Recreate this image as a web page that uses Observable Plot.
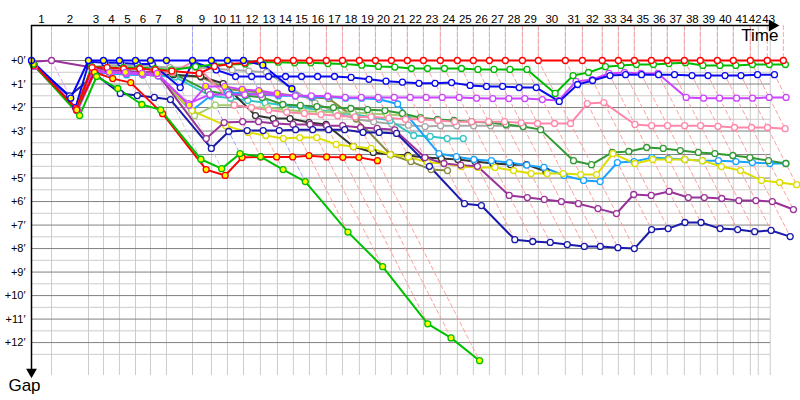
<!DOCTYPE html>
<html><head><meta charset="utf-8">
<script src="https://cdn.jsdelivr.net/npm/d3@7"></script>
<script src="https://cdn.jsdelivr.net/npm/@observablehq/plot@0.6"></script>
<style>body{margin:0;background:#fff;}#chart{width:800px;height:400px;}</style>
</head><body><div id="chart"></div>
<script>
// ---------- DATA ----------
// reference (leader) elapsed time in minutes at the end of each lap (index = lap 0..43)
const lapTime = [0, 1.67, 4.75, 6.0, 7.33, 8.67, 9.92, 11.25, 13.42, 15.0, 16.33, 17.67, 19.08, 20.5, 21.83, 23.17, 24.58, 25.92, 27.33, 28.67, 30.0, 31.33, 32.67, 34.08, 35.5, 36.83, 38.17, 39.5, 40.92, 42.25, 44.5, 45.92, 47.58, 48.92, 50.25, 51.67, 53.0, 54.42, 55.75, 57.17, 58.5, 59.92, 61.33, 62.67];
// time marks used for the lap grid and top labels
const lapMarkTime = [0, 1.67, 4.75, 6.0, 7.33, 8.67, 9.92, 11.25, 13.42, 15.0, 16.33, 17.67, 19.08, 20.5, 21.83, 23.17, 24.58, 25.92, 27.33, 28.67, 30.0, 31.33, 32.67, 34.08, 35.5, 36.83, 38.17, 39.5, 40.92, 42.25, 44.5, 45.92, 47.58, 48.92, 50.25, 51.67, 53.0, 54.42, 55.75, 57.17, 58.5, 59.92, 60.58, 61.58];
const lapLabels = ["1","2","3","4","5","6","7","8","9","10","11","12","13","14","15","16","17","18","19","20","21","22","23","24","25","26","27","28","29","30","31","32","33","34","35","36","37","38","39","40","41","42","43"];
const gapTicks = [0,1,2,3,4,5,6,7,8,9,10,11,12];

// gap to leader (minutes) per lap, index = lap
const gapRed = [0.1, 2.05, 0.3, 0.3, 0.35, 0.35, 0.4, 0.45, 0.55, 0.25, 0.15, 0.1, 0,0,0,0,0,0,0,0,0,0,0,0,0,0,0,0,0,0,0,0,0,0,0,0,0,0,0,0,0,0,0,0];
const gapRedY = [0.2, 2.1, 0.5, 0.77, 0.94, 2.26, 4.64, 4.89, 4.13, 4.1, 4.1, 4.1, 4.05, 4.1, 4.12, 4.12, 4.26];
const gapGreenY = [0.15, 2.34, 0.68, 1.19, 1.87, 2.1, 4.2, 4.6, 3.96, 4.09, 4.64, 5.15, 7.3, 8.77, 11.2, 11.8, 12.77];
const gapBlueY = [0, 1.6, 0, 0, 0, 0, 0, 0, 0, 0, 0, 0, 0.2, 1.2];
const gapBlue = [0.15, 2.0, 0.05, 0.1, 0.1, 0.15, 0.15, 1.15, 0.05, 0.4, 0.68, 0.68, 0.68, 0.68, 0.68, 0.68, 0.68, 0.72, 0.8, 0.88, 0.92, 0.97, 0.97, 0.94, 1.06, 1.1, 1.1, 1.15, 1.15, 1.74, 1.02, 0.85, 0.64, 0.6, 0.6, 0.6, 0.6, 0.64, 0.64, 0.64, 0.64, 0.6, 0.6];
const gapGreen = [0.2, 2.1, 0.25, 0.3, 0.3, 0.3, 0.35, 0.4, 0.26, 0.17, 0.17, 0.15, 0.07, 0.07, 0.1, 0.1, 0.13, 0.15, 0.2, 0.25, 0.28, 0.34, 0.34, 0.34, 0.34, 0.38, 0.38, 0.38, 0.38, 1.4, 0.64, 0.51, 0.26, 0.21, 0.17, 0.17, 0.13, 0.09, 0.21, 0.21, 0.21, 0.17, 0.17, 0.17];
const gapMagenta = [0.2, 2.1, 0.4, 0.5, 0.55, 0.6, 0.65, 1.83, 1.45, 1.45, 1.45, 1.45, 1.45, 1.5, 1.5, 1.52, 1.57, 1.57, 1.57, 1.57, 1.57, 1.57, 1.57, 1.57, 1.6, 1.62, 1.62, 1.62, 1.66, 1.7, 0.89, 0.81, 0.55, 0.51, 0.55, 0.55, 1.57, 1.6, 1.6, 1.6, 1.6, 1.57, 1.57];
const gapMagentaY = [0.25, 2.15, 0.5, 0.5, 0.5, 0.55, 0.55, 1.9, 1.1, 1.1, 1.23, 1.28, 1.4];
const gapPink = [0.1, 2.0, 0.3, 0.5, 0.55, 0.55, 0.6, 0.5, 0.05, 1.9, 2.0, 2.1, 2.2, 2.25, 2.3, 2.35, 2.4, 2.4, 2.45, 2.5, 2.5, 2.55, 2.6, 2.6, 2.6, 2.6, 2.65, 2.68, 2.68, 2.68, 1.83, 1.79, 2.72, 2.77, 2.77, 2.77, 2.77, 2.8, 2.85, 2.85, 2.85, 2.9];
const gapDarkGreen = [0.2, 2.1, 0.45, 0.45, 0.45, 0.5, 0.5, 0.55, 1.3, 1.45, 1.49, 1.57, 1.87, 1.91, 1.96, 2.0, 2.04, 2.09, 2.13, 2.25, 2.43, 2.51, 2.55, 2.6, 2.64, 2.72, 2.81, 2.94, 4.26, 4.43, 3.91, 3.87, 3.7, 3.74, 3.83, 3.91, 3.96, 4.04, 4.13, 4.26, 4.38];
const gapLightGreen = [0.2, 2.1, 0.5, 0.5, 0.55, 0.55, 0.6, 2.34, 1.9, 1.9, 2.0, 2.0, 2.09, 2.17, 2.17, 2.21, 2.21, 2.25, 2.3, 2.34, 2.47, 2.55];
const gapSky = [0.2, 2.1, 0.5, 0.55, 0.6, 0.6, 0.65, 2.13, 1.5, 1.35, 1.4, 1.45, 1.5, 1.5, 1.55, 1.55, 1.6, 1.6, 1.65, 1.85, 3.96, 4.09, 4.21, 4.26, 4.34, 4.45, 4.55, 4.89, 5.1, 5.15, 4.34, 4.3, 4.13, 4.17, 4.21, 4.26, 4.26, 4.3, 4.34, 4.38, 4.38];
const gapBlack = [0.2, 2.1, 0.5, 0.5, 0.5, 0.55, 0.55, 0.6, 0.68, 0.98, 2.34, 2.47, 2.47, 2.64, 2.72, 3.66, 3.91, 4.0, 4.04, 4.13, 4.17, 4.21, 4.3, 4.38, 4.43, 4.43, 4.72];
const gapYellow = [0.2, 2.1, 0.45, 0.5, 0.5, 0.55, 0.6, 2.13, 2.77, 3.06, 3.19, 3.32, 3.28, 3.28, 3.57, 3.66, 3.74, 4.0, 4.1, 4.34, 4.38, 4.51, 4.55, 4.55, 4.68, 4.81, 4.81, 4.81, 4.85, 4.85, 3.96, 4.38, 4.21, 4.21, 4.21, 4.26, 4.51, 4.68, 5.1, 5.19, 5.28];
const gapPurple = [0.05, 0, 0.3, 0.4, 0.45, 0.5, 0.5, 3.32, 2.64, 2.6, 2.6, 2.68, 2.72, 2.72, 2.77, 2.77, 2.85, 2.89, 2.95, 4.13, 4.38, 4.45, 4.5, 5.74, 5.83, 5.91, 6.0, 6.09, 6.3, 6.51, 5.7, 5.74, 5.57, 5.83, 5.83, 5.87, 5.96, 5.96, 6.0, 6.34];
const gapNavy = [0.15, 1.5, 0.6, 1.4, 1.49, 1.57, 1.66, 3.74, 3.02, 2.98, 2.98, 2.98, 2.94, 2.94, 2.94, 2.94, 3.06, 3.06, 3.1, 4.5, 6.09, 6.17, 7.62, 7.7, 7.74, 7.83, 7.91, 7.91, 7.96, 8.0, 7.19, 7.15, 6.89, 6.89, 7.15, 7.19, 7.28, 7.23, 7.49];
const gapOlive = [0.2, 2.1, 0.5, 0.5, 0.55, 0.6, 0.6, 0.65, 0.7, 1.2, 1.3, 1.35, 1.4, 1.5, 1.57, 1.62, 2.47, 4.0, 4.3, 4.64, 4.68];
const gapTeal = [0.2, 2.1, 0.5, 0.55, 0.6, 0.6, 0.65, 0.7, 1.5, 1.6, 1.7, 1.8, 1.9, 2.0, 2.1, 2.2, 2.3, 2.4, 2.55, 3.19, 3.23, 3.32, 3.32];
const gapGrey = [0.2, 2.1, 0.3, 0.2, 0.2, 0.2, 0.25, 0.3, 0.3, 0.35, 0.4, 0.45, 0.5, 1.2, 1.8, 2.2, 2.5, 2.6, 2.7, 2.75, 2.81, 2.77, 2.77, 2.77, 2.77, 2.77, 2.81];

// ---------- STYLE ----------
const series = [
  ["Grey", gapGrey, "#a8a8a8", false],
  ["Olive", gapOlive, "#8a8a44", false],
  ["Teal", gapTeal, "#33c4c4", false],
  ["LightGreen", gapLightGreen, "#a4cc70", false],
  ["Black", gapBlack, "#333333", false],
  ["Sky", gapSky, "#1aa3ff", false],
  ["DarkGreen", gapDarkGreen, "#339933", false],
  ["Pink", gapPink, "#ff88aa", false],
  ["Yellow", gapYellow, "#dddd00", false],
  ["Purple", gapPurple, "#993399", false],
  ["Navy", gapNavy, "#1a1aaa", false],
  ["MagentaY", gapMagentaY, "#cc44ff", true],
  ["Magenta", gapMagenta, "#cc44ff", false],
  ["RedY", gapRedY, "#ff0000", true],
  ["GreenY", gapGreenY, "#00c000", true],
  ["Blue", gapBlue, "#0a0aee", false],
  ["Green", gapGreen, "#00bb00", false],
  ["BlueY", gapBlueY, "#0000ff", true],
  ["Red", gapRed, "#ff0000", false]
];
const lapLineTint = lap => lap === 1 ? "#ddaaee" : lap <= 7 ? "#c8c8c8" : (lap === 8 || lap === 11) ? "#9f9fff" : "#ff9f9f";

// ---------- BUILD ----------
const rows = [];
series.forEach(([name, gaps, color, yellow]) => {
  gaps.forEach((g, lap) => {
    if (g != null) rows.push({name, lap, gap: g, t: lapTime[lap] + g, yellow});
  });
});
const xMax = 61.6, yMin = -1.49, yMax = 13.4;

const lapPaths = [];
for (let lap = 1; lap < lapTime.length; lap++) {
  const pts = rows.filter(r => r.lap === lap).sort((a, b) => a.gap - b.gap);
  lapPaths.push({lap, t: lapTime[lap], gap: yMin, tint: lapLineTint(lap)});
  lapPaths.push({lap, t: lapTime[lap], gap: 0, tint: lapLineTint(lap)});
  pts.forEach(p => lapPaths.push({lap, t: p.t, gap: p.gap, tint: lapLineTint(lap)}));
}
const tints = Array.from(new Set(lapPaths.map(d => d.tint)));

// label n sits between the marks of laps n-1 and n, nudged right so that labels never collide
const lapLabelRows = lapLabels.map((label, i) => ({label, pos: (lapMarkTime[i] + lapMarkTime[i + 1]) / 2}));
for (let i = 1; i < lapLabelRows.length; i++) {
  lapLabelRows[i].pos = Math.max(lapLabelRows[i].pos, lapLabelRows[i - 1].pos + 1.12);
}
const halfTicks = d3.range(0.5, 13, 1);

const chart = Plot.plot({
  width: 800, height: 400,
  marginLeft: 31, marginRight: 30, marginTop: 25, marginBottom: 25,
  style: {fontFamily: "Liberation Sans, Arial, sans-serif", background: "#fff"},
  x: {domain: [0, xMax], axis: null},
  y: {domain: [yMin, yMax], reverse: true, axis: null},
  color: {domain: series.map(s => s[0]), range: series.map(s => s[2])},
  marks: [
    Plot.ruleY(halfTicks, {stroke: "#cccccc", strokeWidth: 1}),
    Plot.ruleX(lapMarkTime.slice(1), {stroke: "#cccccc", strokeWidth: 1}),
    Plot.ruleY(gapTicks, {stroke: "#808080", strokeWidth: 1}),
    ...tints.map(tint => Plot.line(lapPaths.filter(d => d.tint === tint), {x: "t", y: "gap", z: "lap", stroke: tint, strokeWidth: 1, strokeDasharray: "4,3"})),
    Plot.line(rows, {x: "t", y: "gap", z: "name", stroke: "name", strokeWidth: 2}),
    Plot.dot(rows.filter(d => !d.yellow), {x: "t", y: "gap", r: 3, stroke: "name", fill: "white", strokeWidth: 1.3}),
    Plot.dot(rows.filter(d => d.yellow), {x: "t", y: "gap", r: 3, stroke: "name", fill: "#ffff00", strokeWidth: 1.3}),
    Plot.ruleY([yMin], {x1: 0, x2: xMax + 0.3, stroke: "black", strokeWidth: 1.5}),
    Plot.ruleX([0], {y1: yMin, y2: yMax - 0.1, stroke: "black", strokeWidth: 1.5}),
    Plot.dot([0], {x: xMax + 0.15, y: yMin, symbol: "triangle", rotate: 90, r: 4.5, fill: "black", stroke: null}),
    Plot.dot([0], {x: 0, y: yMax - 0.15, symbol: "triangle", rotate: 180, r: 4, fill: "black", stroke: null}),
    Plot.text(lapLabelRows, {x: "pos", y: yMin, text: "label", lineAnchor: "bottom", dy: -3, fontSize: 11.5, fill: "black"}),
    Plot.text(gapTicks, {x: 0, y: d => d, text: d => `+${d}\u2032`, textAnchor: "end", dx: -6, fontSize: 11, fill: "black"}),
    Plot.text(["Time"], {frameAnchor: "top-right", text: d => d, textAnchor: "end", lineAnchor: "top", dx: 8, dy: 3, fontSize: 17, fill: "black"}),
    Plot.text(["Gap"], {frameAnchor: "bottom-left", text: d => d, textAnchor: "middle", lineAnchor: "top", dx: -7, dy: 3, fontSize: 17, fill: "black"})
  ]
});
document.getElementById("chart").appendChild(chart);
</script></body></html>
